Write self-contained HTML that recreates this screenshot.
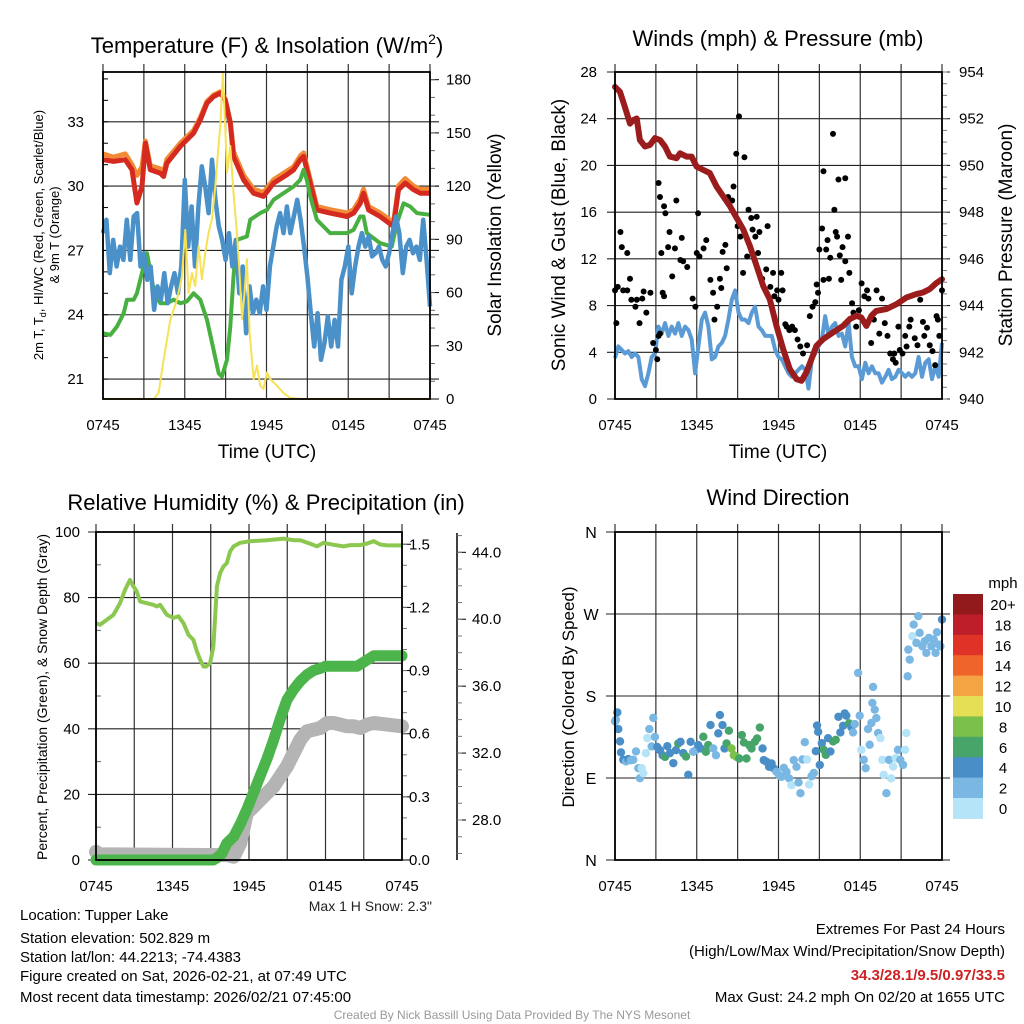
<!DOCTYPE html>
<html><head><meta charset="utf-8"><style>
html,body{margin:0;padding:0;background:#fff}
svg{display:block;font-family:"Liberation Sans",Arial,sans-serif}
</style></head><body>
<svg id="chart" xmlns="http://www.w3.org/2000/svg" width="1024" height="1024" viewBox="0 0 1024 1024">
<rect width="1024" height="1024" fill="#fff"/>
<g id="titles" font-size="22" text-anchor="middle" fill="#000">
<text x="267" y="53">Temperature (F) &amp; Insolation (W/m<tspan font-size="14" dy="-9">2</tspan><tspan dy="9">)</tspan></text>
<text x="778" y="46">Winds (mph) &amp; Pressure (mb)</text>
<text x="266" y="510">Relative Humidity (%) &amp; Precipitation (in)</text>
<text x="778" y="505">Wind Direction</text>
</g>
<g font-size="19" text-anchor="middle">
<text x="267" y="458">Time (UTC)</text>
<text x="778" y="458">Time (UTC)</text>
<text transform="translate(501,235) rotate(-90)">Solar Insolation (Yellow)</text>
<text transform="translate(565,235) rotate(-90)">Sonic Wind &amp; Gust (Blue, Black)</text>
<text transform="translate(1012,235) rotate(-90)">Station Pressure (Maroon)</text>
<text font-size="17" transform="translate(574,697) rotate(-90)">Direction (Colored By Speed)</text>
</g>
<g font-size="13" text-anchor="middle">
<text transform="translate(43,235) rotate(-90)">2m T, T<tspan font-size="9" dy="3">d</tspan><tspan dy="-3">, HI/WC (Red, Green, Scarlet/Blue)</tspan></text>
<text transform="translate(59,235) rotate(-90)">&amp; 9m T (Orange)</text>
<text font-size="14" transform="translate(47,697) rotate(-90)">Percent, Precipitation (Green), &amp; Snow Depth (Gray)</text>
</g>
<text x="432" y="911" font-size="14" text-anchor="end" fill="#222">Max 1 H Snow: 2.3"</text>
<g font-size="15" fill="#000">
<text x="20" y="920">Location: Tupper Lake</text>
<text x="20" y="943">Station elevation: 502.829 m</text>
<text x="20" y="962">Station lat/lon: 44.2213; -74.4383</text>
<text x="20" y="981">Figure created on Sat, 2026-02-21, at 07:49 UTC</text>
<text x="20" y="1002">Most recent data timestamp: 2026/02/21 07:45:00</text>
</g>
<g font-size="15" text-anchor="end">
<text x="1005" y="934">Extremes For Past 24 Hours</text>
<text x="1005" y="956">(High/Low/Max Wind/Precipitation/Snow Depth)</text>
<text x="1005" y="980" fill="#cc2222" font-weight="bold">34.3/28.1/9.5/0.97/33.5</text>
<text x="1005" y="1002">Max Gust: 24.2 mph On 02/20 at 1655 UTC</text>
</g>
<text x="512" y="1019" font-size="12" fill="#999" text-anchor="middle">Created By Nick Bassill Using Data Provided By The NYS Mesonet</text>
</svg>
<script>
// ---------- DATA ----------
const xTickLabels = ["0745","1345","1945","0145","0745"];
const tempTicks = [21,24,27,30,33];
const insoTicks = [0,30,60,90,120,150,180];
const windTicks = [0,4,8,12,16,20,24,28];
const presTicks = [940,942,944,946,948,950,952,954];
const rhTicks = [0,20,40,60,80,100];
const precipTicks = [0.0,0.3,0.6,0.9,1.2,1.5];
const snowTicks = [28.0,32.0,36.0,40.0,44.0];
const dirTicks = ["N","E","S","W","N"];
const speedBinLabels = ["0","2","4","6","8","10","12","14","16","18","20+"];
const speedBinColors = ["#b5e3f7","#7ab8e3","#4a8ec8","#47a56a","#7bc04a","#e5df55","#f4a443","#ee6429","#de3326","#be1e2a","#921a1d"];

const t2Hours = [0,0.78,1.64,2.13,2.49,2.86,3.11,3.47,4.21,4.45,4.69,5.67,6.65,7.14,7.63,8.12,8.61,8.97,9.34,9.58,10.32,11.05,11.78,12.52,13.5,13.99,14.47,14.72,15.09,15.7,16.67,17.9,18.39,18.88,19.12,19.49,20.34,21.32,21.69,22.18,22.79,23.28,24];
const t2Values = [31.23,31.15,31.23,30.76,29.21,29.98,32.0,30.76,30.6,30.45,31.07,31.85,32.47,33.09,33.87,34.18,34.34,34.03,32.94,31.38,30.29,29.67,29.52,30.14,30.53,30.76,31.23,31.38,30.45,28.89,28.74,28.58,28.74,29.2,29.67,28.89,28.58,28.12,29.83,30.14,29.83,29.67,29.67];
const t9Values = [31.5,31.35,31.5,31.0,30.5,30.9,32.1,30.95,30.8,30.65,31.25,32.0,32.6,33.2,33.95,34.25,34.4,34.05,33.0,31.6,30.5,29.85,29.7,30.3,30.7,30.9,31.4,31.55,30.6,29.05,28.9,28.75,28.9,29.4,29.85,29.05,28.75,28.3,30.0,30.35,30.0,29.85,29.85];
const tdHours = [0,0.54,1.03,1.52,1.76,2.25,2.49,2.98,3.23,3.72,4.21,4.69,5.18,5.67,6.16,6.65,7.14,7.63,8.12,8.49,8.73,9.1,9.34,9.58,9.83,10.56,10.8,11.54,12.03,12.52,13.25,13.99,14.47,14.72,14.96,15.21,15.7,16.67,17.9,18.39,18.88,19.12,19.36,20.34,21.2,21.57,22.06,22.55,23.04,24];
const tdValues = [23.14,23.06,23.45,24.07,24.7,24.7,25.0,26.25,26.87,25.16,24.54,24.54,24.7,24.54,24.62,25.0,24.7,23.76,22.36,21.27,21.12,21.9,23.45,25.78,27.49,27.65,28.43,28.74,28.89,29.36,29.67,29.98,30.29,30.76,30.29,29.52,28.43,27.81,27.81,27.96,28.58,28.58,27.81,27.34,27.18,28.27,29.2,29.05,28.74,28.66];
const wcValues = [27.81,28.43,25.94,27.49,26.25,27.18,26.56,28.43,26.56,28.58,28.74,26.25,26.87,25.63,26.25,24.23,25.32,24.7,25.94,24.54,25.32,25.94,25.0,26.25,30.29,27.18,29.05,26.25,29.05,30.92,29.98,28.74,31.23,29.36,28.12,27.49,26.56,27.81,26.25,27.49,25.0,26.25,23.14,25.32,24.07,24.7,24.07,25.32,24.23,26.25,27.18,28.12,28.74,27.81,29.05,27.81,28.58,29.36,28.43,27.18,25.78,24.07,22.52,24.07,21.9,22.67,23.92,22.52,23.76,22.52,25.63,26.25,27.18,25.0,26.25,27.18,27.81,27.18,27.65,26.72,26.87,27.18,26.56,26.25,26.87,27.81,28.58,27.81,25.94,27.18,27.49,26.87,27.18,26.56,28.43,26.56,24.38];
const insoHours = [0,3.72,4.08,4.45,4.94,5.43,5.79,6.04,6.28,6.53,6.77,7.02,7.26,7.51,7.75,8.0,8.24,8.48,8.61,8.8,8.97,9.1,9.34,9.58,9.83,10.02,10.2,10.39,10.56,10.76,11.05,11.3,11.54,11.78,12.03,12.27,12.76,13.25,13.74,14.47,24];
const insoValues = [0,0,3.4,22,44.6,55.9,69,95.3,59.7,71,63.6,86,67.5,82.5,93.8,101.3,120,142.6,153.8,183.8,153.8,127.6,142.6,116.3,93.8,71.3,45,60,78.8,37.5,11.3,18.8,7.5,5.6,15,11.3,7.5,3.4,0.6,0,0];

const presHours = [0,0.37,0.73,1.1,1.34,1.59,1.83,2.2,2.57,2.93,3.3,3.67,4.03,4.52,4.77,5.25,5.62,5.99,6.48,6.96,7.45,7.94,8.43,8.92,9.41,9.9,10.39,10.88,11.36,11.85,12.34,12.83,13.32,13.69,14.05,14.42,14.79,15.27,16.01,16.74,17.23,17.72,18.08,18.45,18.82,19.18,19.92,20.65,21.38,22.12,22.6,23.09,23.58,24];
const presValues = [953.36,953.15,952.5,951.79,951.94,952.01,951.09,950.81,950.88,951.17,951.09,950.81,950.38,950.31,950.52,950.38,950.38,949.95,949.81,949.67,949.1,948.68,948.26,947.76,947.26,946.55,945.7,944.84,944.27,943.13,942.14,941.28,940.85,940.78,941.14,941.71,942.28,942.56,942.85,943.13,943.42,943.56,943.49,943.13,943.56,943.77,943.85,944.06,944.34,944.49,944.56,944.7,944.96,945.13];
const windValues = [3.5,4.5,4.2,3.9,4.1,3.6,3.9,3.6,1.7,1.1,2.2,3.6,3.9,6.2,5.6,6.5,5.4,6.2,5.6,6.5,5.4,6.2,5.9,5.1,2.2,4.5,6.8,7.4,6.2,3.4,3.6,4.5,4.8,5.4,6.8,8.5,9.3,7.4,6.8,6.8,6.5,7.4,7.9,6.2,5.9,5.4,5.4,5.4,4.2,3.6,3.4,2.8,2.2,1.9,2.2,2.5,2.8,2.5,0.9,3.4,3.9,4.5,5.1,7.1,5.4,6.2,6.5,5.4,5.6,4.5,6.5,3.6,2.8,2.8,1.7,3.1,2.2,2.8,2.2,2.2,1.4,1.9,2.5,1.7,1.9,2.5,2.2,1.9,2.2,1.9,2.2,3.6,1.9,3.1,3.4,1.7,2.8,1.9,4.8];
const gustHours = [0,0.1,0.2,0.4,0.5,0.6,0.9,0.9,1.1,1.2,1.5,1.6,1.8,2.0,2.1,2.3,2.6,2.8,3.0,3.1,3.2,3.3,3.5,3.6,3.2,3.3,3.6,3.7,3.4,4.0,3.9,4.2,4.4,4.5,4.8,5.0,5.3,4.9,5.7,5.9,6.0,6.1,6.2,6.5,6.7,7.0,7.2,7.3,7.5,7.7,7.8,7.9,8.1,8.2,8.3,8.6,8.7,8.9,9.1,9.0,9.2,9.4,9.5,9.7,9.8,10.0,10.1,10.3,10.4,10.5,10.6,10.8,11.1,11.2,11.4,11.6,11.7,11.9,12.0,12.2,12.3,12.5,12.6,12.8,13.0,13.2,13.4,13.6,13.8,14.1,14.3,14.5,14.7,14.8,14.9,15.0,15.2,15.3,15.3,15.5,15.6,15.7,15.8,16.0,16.1,16.2,16.3,16.4,16.5,16.6,16.7,16.9,16.9,17.1,17.2,17.4,17.5,17.7,17.9,18.1,18.3,18.5,18.6,18.8,19.0,19.2,19.4,19.6,19.8,20.0,20.2,20.4,20.5,20.6,20.8,20.9,21.1,21.3,21.4,21.6,21.7,22.0,22.2,22.4,22.6,22.7,22.9,23.1,23.3,23.5,23.6,23.7,23.8,24.0];
const gustValues = [9.3,6.5,9.6,14.3,13.0,9.3,12.5,9.3,10.3,8.5,7.9,8.5,6.5,8.6,9.2,7.4,9.1,4.8,4.2,3.4,5.4,5.6,9.1,8.8,18.5,17.3,16.5,15.9,12.5,14.3,13.0,10.5,12.9,17.0,11.9,11.8,11.3,13.8,8.6,7.9,12.5,15.9,12.2,12.9,13.6,10.2,9.1,6.8,7.9,10.3,9.5,12.6,13.2,11.2,17.3,17.0,18.2,21.0,24.2,14.8,13.9,10.8,20.7,12.2,16.2,15.5,14.5,13.9,15.6,12.5,14.3,10.3,11.1,14.8,9.6,10.8,8.8,9.3,8.5,10.8,9.3,6.4,6.2,5.9,6.2,5.9,5.1,4.5,3.9,4.6,7.1,7.9,8.3,9.8,9.1,12.8,14.6,10.2,19.5,12.8,13.6,10.3,12.1,22.7,16.2,14.3,13.9,18.8,12.3,10.2,13.0,11.8,18.9,13.9,10.8,8.2,7.4,6.2,7.6,9.9,8.8,9.3,8.6,4.8,6.8,9.3,5.6,8.6,6.5,5.4,3.9,3.4,3.9,3.1,6.2,4.2,3.9,5.4,4.5,6.2,6.8,5.2,4.6,8.5,6.6,5.4,6.1,4.6,4.1,2.9,7.1,6.8,5.4,9.3];

const rhHours = [0,0.31,0.84,1.36,1.88,2.28,2.67,2.93,3.19,3.46,3.98,4.5,4.76,5.03,5.55,6.07,6.47,6.86,7.25,7.64,7.91,8.17,8.43,8.64,8.95,9.21,9.48,9.74,10.0,10.26,10.52,10.79,11.31,12.09,13.4,14.71,15.5,16.02,16.81,17.33,17.85,18.64,19.42,19.95,20.73,21.26,21.78,22.3,22.83,24];
const rhValues = [72.2,71.7,73.2,74.7,78.3,82.4,85.4,83.4,81.9,78.8,78.3,77.8,77.3,77.8,74.8,73.8,74.3,72.2,68.7,67.1,63.6,61.0,59.0,59.0,60.0,65.1,83.4,87.5,89.5,90.5,94.1,95.6,96.7,97.2,97.5,98.0,97.5,97.5,96.4,95.6,96.7,96.1,95.6,96.0,96.0,96.5,97.2,96.2,95.9,95.9];
const precipHours = [0,9.2,9.48,9.87,10.26,10.79,11.31,11.83,12.36,12.88,13.4,13.93,14.45,14.97,15.5,16.02,16.54,17.07,17.59,17.98,20.47,21.26,21.78,24];
const precipValues = [0,0,0.01,0.03,0.08,0.11,0.17,0.24,0.32,0.40,0.48,0.57,0.67,0.76,0.81,0.85,0.88,0.90,0.91,0.92,0.92,0.95,0.97,0.97];
const snowHours = [0,0.3,10.3,10.79,11.31,11.83,12.36,12.88,13.4,13.93,14.45,14.97,15.5,16.02,16.54,17.07,17.59,18.12,18.64,19.16,19.69,20.21,20.73,21.26,21.78,24];
const snowValues = [26.1,25.95,25.9,25.8,26.6,28.4,28.8,29.2,29.6,30.0,30.6,31.2,32.0,32.8,33.3,33.4,33.5,33.8,33.8,33.7,33.6,33.6,33.5,33.7,33.8,33.6];

const dirHours = [0,0.07,0.17,0.24,0.37,0.44,0.61,0.81,0.98,1.15,1.34,1.54,1.71,1.83,1.96,2.08,2.27,2.37,2.52,2.69,2.81,2.93,3.1,3.3,3.49,3.67,3.84,4.03,4.28,4.47,4.64,4.81,5.01,5.21,5.38,5.55,5.74,5.94,6.11,6.28,6.48,6.67,6.84,7.01,7.21,7.41,7.58,7.7,7.89,8.04,8.19,8.36,8.55,8.72,8.92,9.12,9.31,9.46,9.65,9.85,10.02,10.26,10.43,10.63,10.83,10.92,11.12,11.31,11.49,11.66,11.85,12.05,12.22,12.39,12.59,12.78,12.95,13.12,13.32,13.47,13.61,13.76,13.93,14.1,14.25,14.42,14.59,14.74,14.83,14.91,15.03,15.18,15.32,15.47,15.64,15.81,16.01,16.2,16.4,16.54,16.74,16.86,16.98,17.18,17.35,17.47,17.6,17.84,17.96,18.08,18.26,18.4,18.57,18.69,18.82,18.89,18.94,19.06,19.18,19.31,19.48,19.62,19.72,19.92,20.11,20.26,20.41,20.6,20.77,20.94,21.14,21.29,21.38,21.48,21.63,21.53,21.82,21.92,22.12,22.26,22.36,22.56,22.73,22.85,23.04,23.22,23.39,23.53,23.63,23.78,23.88,24.0];
const dirValues = [152.1,153.9,162,143.7,130.2,118.1,110.0,108.2,110.8,109.4,110.0,119.2,100.8,89.8,100.8,95.3,117.3,133.8,143.7,124.6,156.0,135.1,124.1,120.5,115.0,113.2,124.9,117.3,106.3,120.5,127.9,129.7,117.3,113.6,93.5,129.7,118.8,120.6,126.1,122.4,135.3,118.8,126.1,148.1,122.4,115.0,139.0,159.1,148.1,122.4,127.9,141.9,122.4,115.0,113.2,111.4,137.1,129.0,111.4,126.1,122.4,129.7,133.4,145.4,122.4,109.6,107.8,102.3,106.0,100.5,96.8,93.1,91.3,101.2,96.8,89.5,82.1,109.6,102.3,85.1,73.3,110.3,129.3,110.3,82.8,91.9,95.6,119.4,147.6,140.7,104.3,128.2,120.9,115.4,133.7,119.1,130.1,131.9,157.2,140,147.3,160.9,158.4,150,145.6,140,149.2,205.3,158.4,120.9,109.9,100.8,143.7,126.5,150.4,172.4,190.0,165.0,155.8,139.3,133.8,109.9,93.5,73.3,109.9,89.7,102.6,111.8,120.9,109.9,104.4,120.9,139.3,201.6,219.9,230.9,245.6,258.4,238.3,267.6,249.3,234.6,240.1,227.3,243.8,234.6,241.9,227.3,250.0,236.5,234.6,263.9];

// ---------- HELPERS ----------
const NS='http://www.w3.org/2000/svg';
const svg=document.getElementById('chart');
function mk(tag, attrs, parent){const e=document.createElementNS(NS,tag);for(const k in attrs)e.setAttribute(k,attrs[k]);(parent||svg).appendChild(e);return e;}
function txt(s,x,y,size,anchor,parent){const t=mk('text',{x:x,y:y,'font-size':size,'text-anchor':anchor},parent);t.textContent=s;return t;}
function pathFrom(xs,ys,fx,fy){let d='';for(let i=0;i<xs.length;i++){d+=(i?'L':'M')+fx(xs[i]).toFixed(1)+','+fy(ys[i]).toFixed(1);}return d;}
function evenHours(n){const a=[];for(let i=0;i<n;i++)a.push(i*24/(n-1));return a;}
function interp(hs,vs,h){if(h<=hs[0])return vs[0];for(let i=1;i<hs.length;i++){if(h<=hs[i]){const f=(h-hs[i-1])/(hs[i]-hs[i-1]);return vs[i-1]+f*(vs[i]-vs[i-1]);}}return vs[vs.length-1];}

function panelFrame(g,L,R,T,B,nameBase){
  for(let i=0;i<=8;i++){const x=L+i*(R-L)/8;
    const v=mk('line',{x1:x,y1:T-8,x2:x,y2:B,stroke:'#333','stroke-width':1.2},g);
    
    }
  xTickLabels.forEach((s,i)=>{const t=txt(s,L+i*(R-L)/4,B+31,15,'middle',g);
    
    });
}
function hgrid(g,L,R,y,nm){const l=mk('line',{x1:L,y1:y,x2:R,y2:y,stroke:'#222','stroke-width':1.1},g);
  
  }
function box(g,L,R,T,B,nm){const r=mk('rect',{x:L,y:T,width:R-L,height:B-T,fill:'none',stroke:'#000','stroke-width':1.8},g);
  
  }

// ---------- PANEL 1: temperature ----------
(function(){
  const L=103,R=430,T=72,B=399;
  const xS=h=>L+h*(R-L)/24, yT=t=>399-(t-20.07)*21.44, yI=v=>399-v*1.774;
  const g=mk('g',{});  
  panelFrame(g,L,R,T,B,'temp');
  tempTicks.forEach(t=>{hgrid(g,L,R+9,yT(t),'temp-hgrid');
    const lb=txt(String(t),84,yT(t)+5,15,'end',g);
    
    });
  for(let t=21;t<=35;t++){mk('line',{x1:L,y1:yT(t),x2:L+5,y2:yT(t),stroke:'#000'},g);}
  insoTicks.forEach(v=>{mk('line',{x1:R,y1:yI(v),x2:R+9,y2:yI(v),stroke:'#000'},g);
    const lb=txt(String(v),446,yI(v)+5,15,'start',g);
    
    });
  for(let v=10;v<=180;v+=10){mk('line',{x1:R,y1:yI(v),x2:R+5,y2:yI(v),stroke:'#666'},g);}
  const orange=mk('path',{d:pathFrom(t2Hours,t9Values,xS,yT),fill:'none',stroke:'#f28a35','stroke-width':5,'stroke-linejoin':'round'},g);
   
  const red=mk('path',{d:pathFrom(t2Hours,t2Values,xS,yT),fill:'none',stroke:'#d42a20','stroke-width':5,'stroke-linejoin':'round'},g);
   
  const green=mk('path',{d:pathFrom(tdHours,tdValues,xS,yT),fill:'none',stroke:'#48b040','stroke-width':4,'stroke-linejoin':'round'},g);
   
  const blue=mk('path',{d:pathFrom(evenHours(wcValues.length),wcValues,xS,yT),fill:'none',stroke:'#4a90c9','stroke-width':4.5,'stroke-linejoin':'round'},g);
   
  const yel=mk('path',{d:pathFrom(insoHours,insoValues,xS,yI),fill:'none',stroke:'#f7e154','stroke-width':2,'stroke-linejoin':'round'},g);
   
  box(g,L,R,T,B,'temp-plot-frame');
})();

// ---------- PANEL 2: wind & pressure ----------
(function(){
  const L=615,R=942,T=72,B=399;
  const xS=h=>L+h*(R-L)/24, yW=v=>B-v*(B-T)/28, yP=p=>B-(p-940)*(B-T)/14;
  const g=mk('g',{});  
  panelFrame(g,L,R,T,B,'wind');
  windTicks.forEach(v=>{hgrid(g,L-8,R+8,yW(v),'wind-hgrid');
    const lb=txt(String(v),597,yW(v)+5,15,'end',g);
    
    });
  presTicks.forEach(p=>{const lb=txt(String(p),959,yP(p)+5,15,'start',g);
    
    });
  for(let p=940;p<=954;p+=0.5){mk('line',{x1:R,y1:yP(p),x2:R+5,y2:yP(p),stroke:'#777'},g);}
  const wl=mk('path',{d:pathFrom(evenHours(windValues.length),windValues,xS,yW),fill:'none',stroke:'#5b9bd5','stroke-width':4,'stroke-linejoin':'round'},g);
   
  gustHours.forEach((h,i)=>{const c=mk('circle',{cx:xS(h),cy:yW(gustValues[i]),r:3,fill:'#000'},g);
    
    });
  const pl=mk('path',{d:pathFrom(presHours,presValues,xS,yP),fill:'none',stroke:'#9b1c1c','stroke-width':6,'stroke-linejoin':'round','stroke-linecap':'round'},g);
   
  box(g,L,R,T,B,'wind-plot-frame');
})();

// ---------- PANEL 3: RH & precipitation ----------
(function(){
  const L=96,R=402,T=532,B=860;
  const xS=h=>L+h*(R-L)/24, yR=v=>B-v*(B-T)/100, yPr=v=>B-v*210.5, yS=d=>820-(d-28)*16.73;
  const g=mk('g',{});  
  panelFrame(g,L,R,T,B,'rh');
  rhTicks.forEach(v=>{hgrid(g,L-8,R,yR(v),'rh-hgrid');
    const lb=txt(String(v),80,yR(v)+5,15,'end',g);
    
    });
  for(let v=10;v<100;v+=20){mk('line',{x1:L,y1:yR(v),x2:L+5,y2:yR(v),stroke:'#666'},g);}
  precipTicks.forEach(v=>{mk('line',{x1:R,y1:yPr(v),x2:R+9,y2:yPr(v),stroke:'#000'},g);
    const lb=txt(v.toFixed(1),409,yPr(v)+5,15,'start',g);
    
    });
  for(let v=0.1;v<1.55;v+=0.1){mk('line',{x1:R,y1:yPr(v),x2:R+5,y2:yPr(v),stroke:'#777'},g);}
  const sx=457;
  const ax=mk('line',{x1:sx,y1:533,x2:sx,y2:860,stroke:'#000','stroke-width':1.5},g);
   
  snowTicks.forEach(d=>{mk('line',{x1:sx,y1:yS(d),x2:sx+9,y2:yS(d),stroke:'#000'},g);
    const lb=txt(d.toFixed(1),472,yS(d)+5,15,'start',g);
    
    });
  for(let d=26;d<=45;d+=1){mk('line',{x1:sx,y1:yS(d),x2:sx+5,y2:yS(d),stroke:'#777'},g);}
  const rl=mk('path',{d:pathFrom(rhHours,rhValues,xS,yR),fill:'none',stroke:'#8cc850','stroke-width':4,'stroke-linejoin':'round'},g);
   
  const sl=mk('path',{d:pathFrom(snowHours,snowValues,xS,yS),fill:'none',stroke:'#b4b4b4','stroke-width':14,'stroke-linejoin':'round','stroke-linecap':'round'},g);
   
  const pl=mk('path',{d:pathFrom(precipHours,precipValues,xS,yPr),fill:'none',stroke:'#4bb54b','stroke-width':11,'stroke-linejoin':'round','stroke-linecap':'round'},g);
   
  box(g,L,R,T,B,'rh-plot-frame');
})();

// ---------- PANEL 4: wind direction ----------
(function(){
  const L=615,R=942,T=532,B=860;
  const xS=h=>L+h*(R-L)/24, yD=d=>B-d*(B-T)/360;
  const g=mk('g',{});  
  panelFrame(g,L,R,T,B,'dir');
  dirTicks.forEach((s,i)=>{const y=yD(i*90);hgrid(g,606,950,y,'dir-hgrid');
    const lb=txt(s,591,y+6,16,'middle',g);
    
    });
  const wh=evenHours(windValues.length);
  dirHours.forEach((h,i)=>{const sp=interp(wh,windValues,h);const bin=Math.min(10,Math.floor(sp/2));
    const c=mk('circle',{cx:xS(h),cy:yD(dirValues[i]),r:4.2,fill:speedBinColors[bin]},g);
    
    });
  box(g,L,R,T,B,'dir-plot-frame');
  const lg=mk('g',{},g);  
  const cbTop=594, bh=20.4;
  const u=txt('mph',1003,588,15,'middle',lg);
   
  for(let k=0;k<speedBinColors.length;k++){const idx=speedBinColors.length-1-k;
    const r=mk('rect',{x:953,y:cbTop+k*bh,width:30,height:bh+0.5,fill:speedBinColors[idx]},lg);
    
    
    const t=txt(speedBinLabels[idx],1003,cbTop+k*bh+16,15,'middle',lg);
    
    }
})();
</script>
</body></html>
